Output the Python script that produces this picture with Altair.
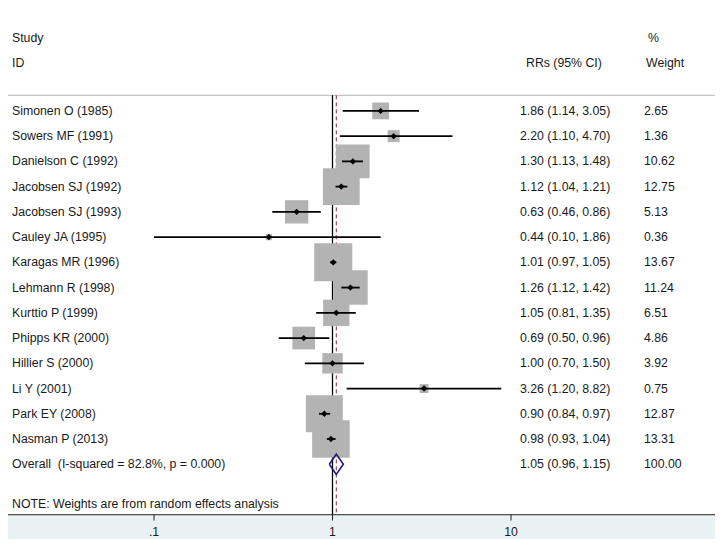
import altair as alt
import pandas as pd

# ---------------- data ----------------
studies = ["Simonen O (1985)", "Sowers MF (1991)", "Danielson C (1992)", "Jacobsen SJ (1992)",
           "Jacobsen SJ (1993)", "Cauley JA (1995)", "Karagas MR (1996)", "Lehmann R (1998)",
           "Kurttio P (1999)", "Phipps KR (2000)", "Hillier S (2000)", "Li Y (2001)",
           "Park EY (2008)", "Nasman P (2013)"]
rr = [1.86, 2.20, 1.30, 1.12, 0.63, 0.44, 1.01, 1.26, 1.05, 0.69, 1.00, 3.26, 0.90, 0.98]
ci_low = [1.14, 1.10, 1.13, 1.04, 0.46, 0.10, 0.97, 1.12, 0.81, 0.50, 0.70, 1.20, 0.84, 0.93]
ci_high = [3.05, 4.70, 1.48, 1.21, 0.86, 1.86, 1.05, 1.42, 1.35, 0.96, 1.50, 8.82, 0.97, 1.04]
weights = [2.65, 1.36, 10.62, 12.75, 5.13, 0.36, 13.67, 11.24, 6.51, 4.86, 3.92, 0.75, 12.87, 13.31]

overall_rr = 1.05
overall_low = 0.96
overall_high = 1.15
overall_weight = 100.00
overall_label = "Overall\u00a0 (I-squared = 82.8%, p = 0.000)"
note_text = "NOTE: Weights are from random effects analysis"

tick_values = [0.1, 1, 10]
tick_labels = [".1", "1", "10"]

# ---------------- layout helpers ----------------
W, H = 707, 531
FONT = "Liberation Sans"
FS = 12.3
TXT = "#1a1a1a"


def py(ref):
    return ref * H / 547.0


ROW0, STEP = 106.0, 26.0
yscale = alt.Scale(domain=[(0 - ROW0) / STEP, (547 - ROW0) / STEP], reverse=True, nice=False, zero=False)
X_ONE, DEC = 324.5, 178.5
xscale = alt.Scale(type="log", domain=[10 ** (-X_ONE / DEC), 10 ** ((W - X_ONE) / DEC)], nice=False)

n = len(studies)
df = pd.DataFrame({
    "row": list(range(n)),
    "study": studies,
    "rr": rr,
    "lo": ci_low,
    "hi": ci_high,
    "w": weights,
})
df["est"] = [f"{a:.2f} ({b:.2f}, {c:.2f})" for a, b, c in zip(rr, ci_low, ci_high)]
df["wt"] = [f"{v:.2f}" for v in weights]

ov_row = n
ov = pd.DataFrame({
    "row": [ov_row], "study": [overall_label], "rr": [overall_rr], "lo": [overall_low],
    "hi": [overall_high],
    "est": [f"{overall_rr:.2f} ({overall_low:.2f}, {overall_high:.2f})"],
    "wt": [f"{overall_weight:.2f}"],
})
half = 0.4
dia = pd.DataFrame({
    "x": [overall_low, overall_rr, overall_high, overall_rr, overall_low],
    "y": [ov_row, ov_row - half, ov_row, ov_row + half, ov_row],
    "o": [0, 1, 2, 3, 4],
})
ticks = pd.DataFrame({"v": tick_values, "lab": tick_labels})
one = pd.DataFrame({"a": [0]})

X = lambda f: alt.X(f, scale=xscale, axis=None)
Y = lambda f: alt.Y(f, scale=yscale, axis=None)

band = alt.Chart(one).mark_rect(color="#e9f1f3").encode(
    x=alt.value(0), x2=alt.value(W), y=alt.value(py(522)), y2=alt.value(H))
sep = alt.Chart(one).mark_rule(color="#c4c4c4", strokeWidth=1.2).encode(
    x=alt.value(0), x2=alt.value(W), y=alt.value(py(90)))
axis_line = alt.Chart(one).mark_rule(color="#222222", strokeWidth=1).encode(
    x=alt.value(0), x2=alt.value(W), y=alt.value(py(522)))
null_line = alt.Chart(one).mark_rule(color="#000000", strokeWidth=1.3).encode(
    x=alt.X("v:Q", scale=xscale, axis=None), y=alt.value(py(90)), y2=alt.value(py(522))
).transform_calculate(v="1")
ov_line = alt.Chart(ov).mark_rule(color="#9b2335", strokeWidth=1, strokeDash=[4, 3]).encode(
    x=X("rr:Q"), y=alt.value(py(90)), y2=alt.value(py(522)))

squares = alt.Chart(df).mark_square(color="#b3b3b3", opacity=1).encode(
    x=X("rr:Q"), y=Y("row:Q"),
    size=alt.Size("w:Q", scale=alt.Scale(type="linear", domain=[0, 14], range=[0, 106 * 14], zero=True),
                  legend=None))
cis = alt.Chart(df).mark_rule(color="#000000", strokeWidth=1.8).encode(
    x=X("lo:Q"), x2="hi:Q", y=Y("row:Q"))
pts = alt.Chart(df).mark_point(shape="diamond", filled=True, color="#000000", size=40, opacity=1).encode(
    x=X("rr:Q"), y=Y("row:Q"))
diamond = alt.Chart(dia).mark_line(color="#1c1c78", strokeWidth=1.6).encode(
    x=X("x:Q"), y=Y("y:Q"), order="o:Q")

tx = dict(align="left", baseline="middle", font=FONT, fontSize=FS, color=TXT)
rows_all = pd.concat([df[["row", "study", "est", "wt"]], ov[["row", "study", "est", "wt"]]])
lab_study = alt.Chart(rows_all).mark_text(**tx).encode(x=alt.value(4), y=Y("row:Q"), text="study:N")
lab_est = alt.Chart(rows_all).mark_text(**tx).encode(x=alt.value(512), y=Y("row:Q"), text="est:N")
lab_wt = alt.Chart(rows_all).mark_text(**tx).encode(x=alt.value(636), y=Y("row:Q"), text="wt:N")


def header(text, x, yref):
    return alt.Chart(pd.DataFrame({"t": [text]})).mark_text(**tx).encode(
        x=alt.value(x), y=alt.value(py(yref)), text="t:N")


headers = [header("Study", 4, 31), header("ID", 4, 57), header("RRs (95% CI)", 518, 57),
           header("%", 640, 31), header("Weight", 638, 57), header(note_text, 4, 511)]

tick_marks = alt.Chart(ticks).mark_rule(color="#222222", strokeWidth=1).encode(
    x=X("v:Q"), y=alt.value(py(522)), y2=alt.value(py(528)))
tick_text = alt.Chart(ticks).mark_text(align="center", baseline="middle", font=FONT, fontSize=FS,
                                       color=TXT).encode(
    x=X("v:Q"), y=alt.value(py(540)), text="lab:N")

chart = alt.layer(
    band, sep, null_line, ov_line, axis_line, squares, cis, pts, diamond,
    lab_study, lab_est, lab_wt, *headers, tick_marks, tick_text
).properties(
    width=W, height=H, padding=0, autosize=alt.AutoSizeParams(type="none"), background="white"
).configure_view(stroke=None)

chart.save("out.html", embed_options={"renderer": "svg", "actions": False})
